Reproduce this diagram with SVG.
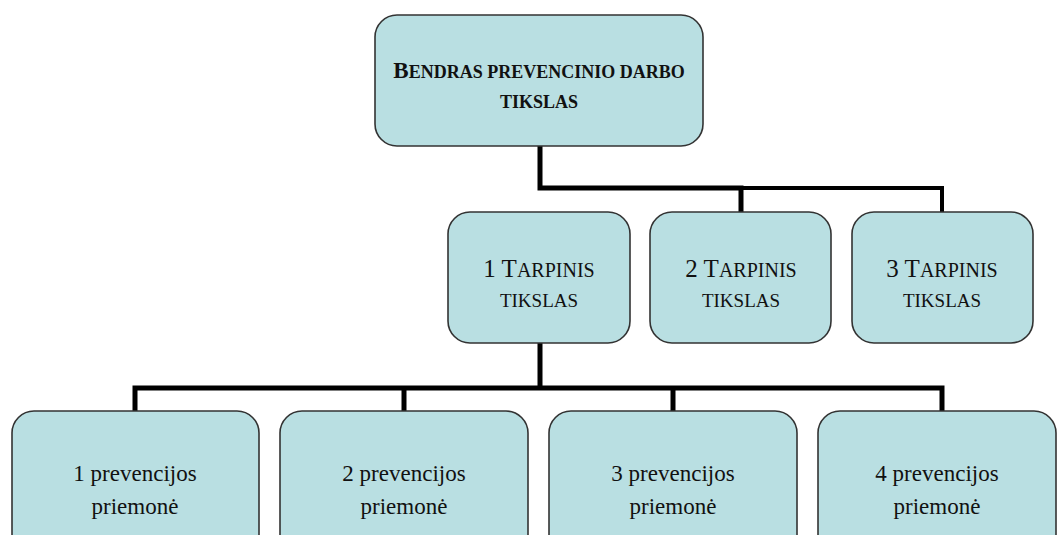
<svg xmlns="http://www.w3.org/2000/svg" width="1058" height="535" viewBox="0 0 1058 535">
<style>
.box{fill:#b9dfe2;stroke:#333;stroke-width:1.6}
.ln{stroke:#000;stroke-width:5;fill:none;stroke-linecap:square}
text{fill:#111;text-anchor:middle}
.top{font-weight:bold}
.mid{font-size:19px}
.bot{font-size:23px}
</style>
<rect width="1058" height="535" fill="#fff"/>
<g id="connectors">
<path class="ln" d="M540 146V188H741M741 188V210"/>
<path class="ln" style="stroke-width:4" d="M741 188H942V210"/>
<path class="ln" d="M540 344V388M135 388H942M135 388V409M404 388V409M673 388V409M942 388V409"/>
</g>
<g font-family="'Liberation Serif', 'DejaVu Serif', serif">
<g id="goal">
<rect class="box" x="375" y="15" width="328" height="131" rx="22"/>
<text class="top" x="539" y="78"><tspan font-size="23">B</tspan><tspan font-size="18">ENDRAS PREVENCINIO DARBO</tspan></text>
<text class="top" x="539" y="108" font-size="18">TIKSLAS</text>
</g>
<g id="t1">
<rect class="box" x="448" y="212" width="182" height="131" rx="22"/>
<text x="539" y="277"><tspan font-size="25">1 T</tspan><tspan font-size="20">ARPINIS</tspan></text>
<text class="mid" x="539" y="307">TIKSLAS</text>
</g>
<g id="t2">
<rect class="box" x="650" y="212" width="181" height="131" rx="22"/>
<text x="741" y="277"><tspan font-size="25">2 T</tspan><tspan font-size="20">ARPINIS</tspan></text>
<text class="mid" x="741" y="307">TIKSLAS</text>
</g>
<g id="t3">
<rect class="box" x="852" y="212" width="181" height="131" rx="22"/>
<text x="942" y="277"><tspan font-size="25">3 T</tspan><tspan font-size="20">ARPINIS</tspan></text>
<text class="mid" x="942" y="307">TIKSLAS</text>
</g>
<g id="p1">
<rect class="box" x="12" y="411" width="247" height="150" rx="22"/>
<text class="bot" x="135" y="481">1 prevencijos</text>
<text class="bot" x="135" y="514">priemonė</text>
</g>
<g id="p2">
<rect class="box" x="280" y="411" width="248" height="150" rx="22"/>
<text class="bot" x="404" y="481">2 prevencijos</text>
<text class="bot" x="404" y="514">priemonė</text>
</g>
<g id="p3">
<rect class="box" x="549" y="411" width="248" height="150" rx="22"/>
<text class="bot" x="673" y="481">3 prevencijos</text>
<text class="bot" x="673" y="514">priemonė</text>
</g>
<g id="p4">
<rect class="box" x="818" y="411" width="238" height="150" rx="22"/>
<text class="bot" x="937" y="481">4 prevencijos</text>
<text class="bot" x="937" y="514">priemonė</text>
</g>
</g>
</svg>
